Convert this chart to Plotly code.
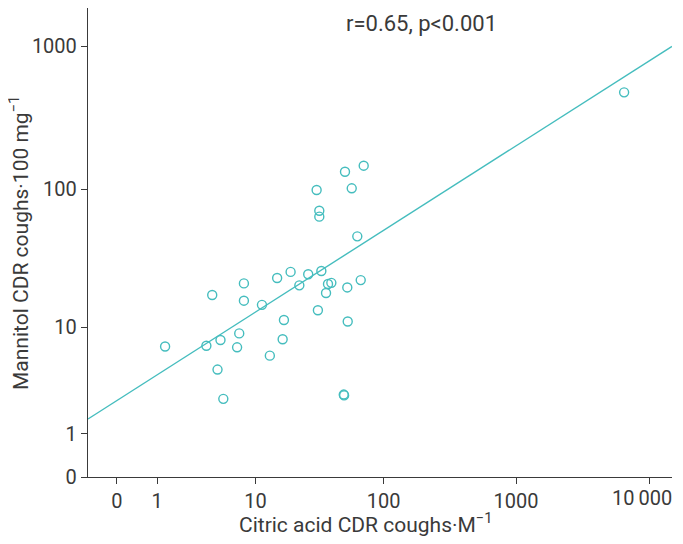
import numpy as np
import plotly.graph_objects as go

# Data (original units)
citric_cdr = [1.3, 3.7, 5.0, 4.2, 4.7, 5.3, 7.0, 7.3, 8.0, 8.0, 11.3, 13.1, 15.0, 16.6,
              17.0, 19.2, 22.5, 26.4, 30.7, 31.4, 32.2, 32.2, 33.4, 36.3, 37.6, 39.9,
              49.7, 50.0, 50.8, 52.9, 53.3, 57.2, 63.1, 67.0, 70.6, 6500]
mannitol_cdr = [7.1, 7.2, 8.0, 17.5, 4.6, 2.5, 7.0, 9.0, 21.3, 15.9, 14.8, 6.0, 23.3, 8.1,
                11.4, 25.8, 20.6, 24.8, 98.7, 13.5, 70.5, 64.0, 26.2, 18.1, 21.1, 21.5,
                2.75, 2.7, 132.6, 19.9, 11.1, 101.4, 46.4, 22.5, 146.2, 476]

x_tick_vals = [0, 1, 10, 100, 1000, 10000]
x_tick_text = ["0", "1", "10", "100", "1000", "10\u2009000"]
y_tick_vals = [0, 1, 10, 100, 1000]
y_tick_text = ["0", "1", "10", "100", "1000"]

# regression line in log10(v+1) space
fit_slope = 0.591
fit_intercept = 0.533

annotation_text = "r=0.65, p<0.001"
x_title = "Citric acid CDR coughs·M<sup>−1</sup>"
y_title = "Mannitol CDR coughs·100 mg<sup>−1</sup>"


def tr(v):
    return np.log10(np.asarray(v, dtype=float) + 1)


teal = "#45BDBE"
ink = "#3a3a3a"
font_family = "Roboto, 'Open Sans', Arial, sans-serif"

# page body has an 8px margin; build the figure to land on the reference pixels
OFF = 8
W, H = 683 - OFF, 544 - OFF
L, R, T, B = 88 - OFF, 683 - 672, 0, 544 - 477
pw, ph = W - L - R, H - T - B

x_range = [-0.218, 4.173]
y_range = [0, (477 - OFF) / 143.6]


def px_to_paper_x(px):
    return (px - OFF - L) / pw


def px_to_paper_y(py):
    return (H - B - (py - OFF)) / ph


fig = go.Figure()

line_x = np.array(x_range)
fig.add_trace(go.Scatter(
    x=line_x, y=fit_intercept + fit_slope * line_x,
    mode="lines", line=dict(color=teal, width=1.4),
    hoverinfo="skip", showlegend=False))

fig.add_trace(go.Scatter(
    x=tr(citric_cdr), y=tr(mannitol_cdr), mode="markers",
    marker=dict(symbol="circle-open", size=9, color=teal, line=dict(width=1.4, color=teal)),
    showlegend=False, cliponaxis=False))

fig.add_annotation(text=annotation_text, x=px_to_paper_x(344), y=px_to_paper_y(24),
                   xref="paper", yref="paper", xanchor="left", yanchor="middle",
                   showarrow=False, font=dict(size=22, color=ink, family=font_family))

fig.add_annotation(text=x_title, x=px_to_paper_x(365), y=px_to_paper_y(523),
                   xref="paper", yref="paper", xanchor="center", yanchor="middle",
                   showarrow=False, font=dict(size=21, color=ink, family=font_family))

fig.add_annotation(text=y_title, x=px_to_paper_x(19), y=px_to_paper_y(243),
                   xref="paper", yref="paper", xanchor="center", yanchor="middle",
                   textangle=-90,
                   showarrow=False, font=dict(size=21, color=ink, family=font_family))

# the last x tick label sits at the right page edge: draw it right-aligned there
axis_tick_text = x_tick_text[:-1] + [""]
fig.add_annotation(text=x_tick_text[-1], x=px_to_paper_x(674), y=px_to_paper_y(498),
                   xref="paper", yref="paper", xanchor="right", yanchor="middle",
                   showarrow=False, font=dict(size=20, color=ink, family=font_family))

fig.update_xaxes(
    range=x_range, tickmode="array", tickvals=list(tr(x_tick_vals)), ticktext=axis_tick_text,
    showgrid=False, zeroline=False, showline=True, linecolor=ink, linewidth=1.3,
    ticks="outside", ticklen=6, tickwidth=1.2, tickcolor=ink, automargin=False,
    tickfont=dict(size=20, color=ink, family=font_family))

fig.update_yaxes(
    range=y_range, tickmode="array", tickvals=list(tr(y_tick_vals)), ticktext=y_tick_text,
    showgrid=False, zeroline=False, showline=True, linecolor=ink, linewidth=1.3,
    ticks="outside", ticklen=6, tickwidth=1.2, tickcolor=ink, automargin=False,
    tickfont=dict(size=20, color=ink, family=font_family))

fig.update_layout(
    width=W, height=H,
    margin=dict(l=L, r=R, t=T, b=B),
    plot_bgcolor="white", paper_bgcolor="white",
    font=dict(family=font_family, color=ink),
)

fig.write_html("out.html")
